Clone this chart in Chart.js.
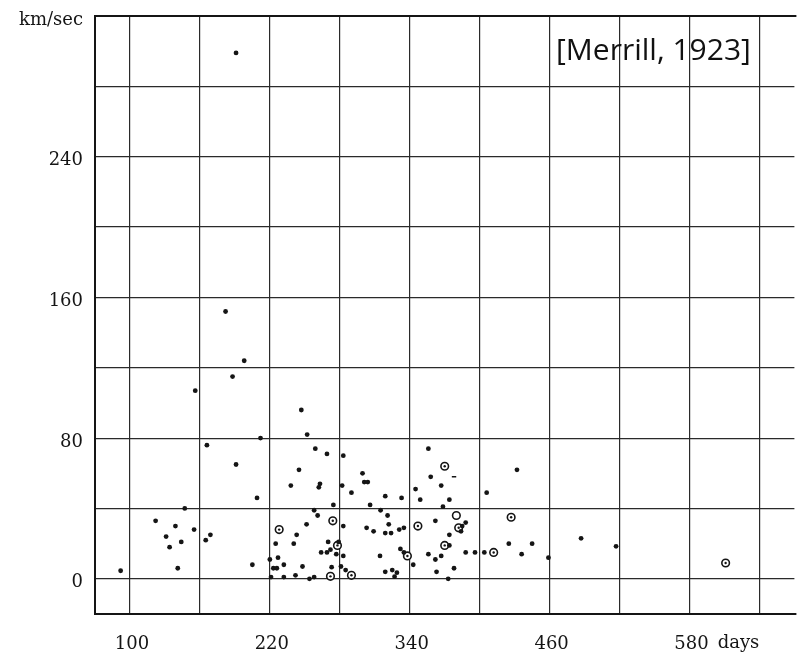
<!DOCTYPE html>
<html>
<head>
<meta charset="utf-8">
<script src="https://cdn.jsdelivr.net/npm/chart.js@4.4.1/dist/chart.umd.min.js"></script>
<style>
  html, body { margin: 0; padding: 0; background: #fff; }
  #wrap { width: 800px; height: 653px; }
</style>
</head>
<body>
<div id="wrap"><canvas id="c" width="800" height="653"></canvas></div>
<script>
// Velocity (km/sec) against period (days) for long-period variables.
// Plain observations
const dotDays = [191,182,198,188,156,247,252,212,166,191,245,
  92,122,139,131,134,144,155,147,141,165,169,205,209,238,
  251.5,243,225,240.5,220,227,223,226,232,248,221,232,242,254,
  259,269,283,263,262,282,299.5,301,304,290,274.5,258,261,283,270,279,264,269,272,277,283,273,281,285,258,
  303,309,315,321,319,306,333,322,319,324,331,335,314.5,332,335,343,319,325,329,327,
  345,349,356,358,367,374,368.5,362,388,385,384,374,374,388,396,404,356,362,367,363,378,373,406,
  432,425,445,436,459,487,517];
const dotVel = [299,152,124,115,107,96,82,80,76,65,62,
  4.6,33,30,24,18,21,28,40,6,22,25,8,46,53,
  31,25,20,20,11,12,6,6,8,7,1,1,2,0,
  74,71,70,54,52,53,60,55,55,49,42,39,36,30,21,21,15,15,16.6,14,13,6.6,7,5,1,
  29,27,39,36,47,42,46,31,26,26,28,29,13,17,15,8,4,5,3.5,1.2,
  51,45,74,58,53,45,41,33,32,30,27,25,19,15,15,15,14,11,13,4,6,0,49,
  62,20,20,14,12,23,18.5];

// Ringed observations
const ringDays = [228,274,278,272,290,338,370,347,382,370,412,427,611];
const ringVel  = [28,33,19,1.4,2,13,64,30,29,19,15,35,9];

// Open ring without centre dot
const openDays = [380];
const openVel  = [36];

// Short dash mark
const dashDays = [378];
const dashVel  = [58];

// Axis grid and labels
const xGrid = [100,160,220,280,340,400,460,520,580,640];
const xLabelled = [100,220,340,460,580];
const yGrid = [0,40,80,120,160,200,240,280,320];
const yLabelled = [0,80,160,240];
const yUnit = 'km/sec';
const xUnit = 'days';
const sourceNote = '[Merrill, 1923]';

const toPoints = (xs, ys) => xs.map((x, i) => ({ x: x, y: ys[i] }));

const INK = '#151515';
const GRID = '#2a2a2a';
const NUM_FONT = { family: 'DejaVu Serif', size: 18 };

const framePlugin = {
  id: 'frame',
  beforeDatasetsDraw(chart) {
    const { ctx, chartArea: a } = chart;
    ctx.save();
    ctx.strokeStyle = INK;
    ctx.lineWidth = 2;
    ctx.beginPath();
    ctx.moveTo(a.right + 2, a.top);
    ctx.lineTo(a.left, a.top);
    ctx.lineTo(a.left, a.bottom);
    ctx.lineTo(a.right + 2, a.bottom);
    ctx.stroke();
    ctx.restore();
  },
  afterDraw(chart) {
    const { ctx, chartArea: a } = chart;
    const xs = chart.scales.x;
    ctx.save();
    ctx.fillStyle = INK;
    // unit after the last labelled period
    ctx.font = NUM_FONT.size + 'px "' + NUM_FONT.family + '"';
    ctx.textBaseline = 'top';
    ctx.textAlign = 'left';
    const last = xLabelled[xLabelled.length - 1];
    const px = xs.getPixelForValue(last) + 2;
    const w = ctx.measureText(String(last)).width;
    ctx.fillText(xUnit, px + w / 2 + 9, a.bottom + 20);
    // source note
    ctx.font = '30px "Open Sans"';
    ctx.textBaseline = 'alphabetic';
    ctx.fillStyle = '#111';
    ctx.fillText(sourceNote, 556, 60);
    ctx.restore();
  }
};

new Chart(document.getElementById('c'), {
  type: 'scatter',
  data: {
    // earlier datasets are painted on top
    datasets: [
      {
        data: toPoints(dotDays, dotVel),
        pointStyle: 'circle',
        pointRadius: 2.4,
        pointBorderWidth: 0,
        pointBackgroundColor: INK
      },
      {
        data: toPoints(ringDays, ringVel),
        pointStyle: 'circle',
        pointRadius: 1.2,
        pointBorderWidth: 0,
        pointBackgroundColor: INK
      },
      {
        data: toPoints(dashDays, dashVel),
        pointStyle: 'line',
        pointRadius: 2.2,
        pointBorderWidth: 1.4,
        pointBorderColor: INK
      },
      {
        data: toPoints(ringDays, ringVel),
        pointStyle: 'circle',
        pointRadius: 3.8,
        pointBorderWidth: 1.6,
        pointBackgroundColor: '#fff',
        pointBorderColor: INK
      },
      {
        data: toPoints(openDays, openVel),
        pointStyle: 'circle',
        pointRadius: 3.8,
        pointBorderWidth: 1.6,
        pointBackgroundColor: '#fff',
        pointBorderColor: INK
      }
    ]
  },
  options: {
    responsive: false,
    devicePixelRatio: 1,
    animation: false,
    layout: { padding: { top: 16, left: 0, right: 0, bottom: 0 } },
    plugins: { legend: { display: false }, tooltip: { enabled: false } },
    scales: {
      x: {
        type: 'linear',
        min: 70,
        max: 670,
        afterBuildTicks: s => { s.ticks = xGrid.map(v => ({ value: v })); },
        afterFit: s => { s.height = 39; s.paddingLeft = 0; s.paddingRight = 0; },
        border: { display: false },
        grid: { color: GRID, lineWidth: 1.2, drawTicks: false },
        ticks: {
          color: INK,
          font: NUM_FONT,
          padding: 20,
          labelOffset: 2,
          maxRotation: 0,
          autoSkip: false,
          callback: v => xLabelled.includes(v) ? String(v) : ''
        }
      },
      y: {
        type: 'linear',
        min: -20,
        max: 320,
        afterBuildTicks: s => { s.ticks = yGrid.map(v => ({ value: v })); },
        afterFit: s => { s.width = 95; s.paddingTop = 0; s.paddingBottom = 0; },
        border: { display: false },
        grid: { color: GRID, lineWidth: 1.2, drawTicks: false },
        ticks: {
          color: INK,
          font: NUM_FONT,
          padding: 12,
          labelOffset: 4,
          autoSkip: false,
          callback: v => v === 320 ? yUnit : (yLabelled.includes(v) ? String(v) : '')
        }
      }
    }
  },
  plugins: [framePlugin]
});
</script>
</body>
</html>
